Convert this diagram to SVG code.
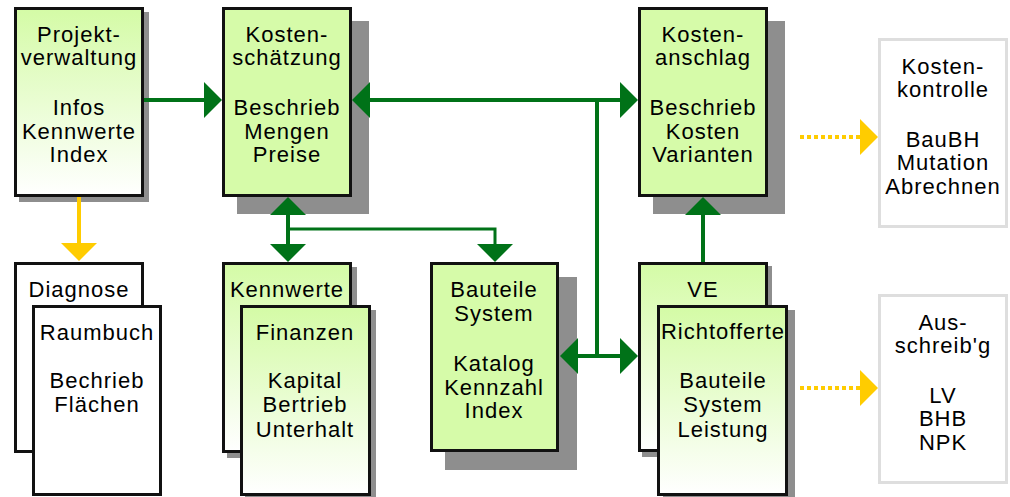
<svg xmlns="http://www.w3.org/2000/svg" width="1010" height="497" viewBox="0 0 1010 497">
<defs>
<linearGradient id="fade" x1="0" y1="0" x2="0" y2="1">
<stop offset="0" stop-color="#d4fba6"/>
<stop offset="1" stop-color="#ffffff"/>
</linearGradient>
<marker id="ag" viewBox="0 0 18 36" refX="0" refY="18" markerWidth="18" markerHeight="36" markerUnits="userSpaceOnUse" orient="auto-start-reverse">
<path d="M0,0 L18,18 L0,36 z" fill="#007218"/>
</marker>
<marker id="ay" viewBox="0 0 18 36" refX="0" refY="18" markerWidth="18" markerHeight="36" markerUnits="userSpaceOnUse" orient="auto-start-reverse">
<path d="M0,0 L18,18 L0,36 z" fill="#ffcc00"/>
</marker>
</defs>
<style>
.box{stroke:#111;stroke-width:3}
.solid{fill:#d6fba9}
.grad{fill:url(#fade)}
.white{fill:#fff}
.gray{fill:#fff;stroke:#dedede;stroke-width:3}
.sh{fill:#8e8e8e}
text{font-family:"Liberation Sans",Arial,sans-serif;font-size:22px;letter-spacing:1px;text-anchor:middle;fill:#000}
.g{fill:none;stroke:#007218;stroke-width:4}
.g3{fill:none;stroke:#007218;stroke-width:3}
.y{fill:none;stroke:#ffcc00;stroke-width:4}
.yd{fill:none;stroke:#ffcc00;stroke-width:4;stroke-dasharray:4 3}
</style>
<rect width="1010" height="497" fill="#fff"/>
<g id="projektverwaltung">
<rect class="sh" x="19" y="12" width="130" height="190"/>
<rect class="box grad" x="15.5" y="8.5" width="127" height="187"/>
<text x="79" y="42">Projekt-</text>
<text x="79" y="65">verwaltung</text>
<text x="79" y="115">Infos</text>
<text x="79" y="139">Kennwerte</text>
<text x="79" y="162">Index</text>
</g>
<g id="kostenschaetzung">
<rect class="sh" x="237" y="21" width="132" height="193"/>
<rect class="box solid" x="223.5" y="8.5" width="127" height="187"/>
<text x="287" y="42">Kosten-</text>
<text x="287" y="65">schätzung</text>
<text x="287" y="115">Beschrieb</text>
<text x="287" y="139">Mengen</text>
<text x="287" y="162">Preise</text>
</g>
<g id="kostenanschlag">
<rect class="sh" x="653" y="21" width="132" height="193"/>
<rect class="box solid" x="639.5" y="8.5" width="127" height="187"/>
<text x="703" y="42">Kosten-</text>
<text x="703" y="65">anschlag</text>
<text x="703" y="115">Beschrieb</text>
<text x="703" y="139">Kosten</text>
<text x="703" y="162">Varianten</text>
</g>
<g id="kostenkontrolle">
<rect class="gray" x="879.5" y="39.5" width="127" height="187"/>
<text x="943" y="74">Kosten-</text>
<text x="943" y="97">kontrolle</text>
<text x="943" y="147">BauBH</text>
<text x="943" y="170">Mutation</text>
<text x="943" y="194">Abrechnen</text>
</g>
<g id="diagnose">
<rect class="box white" x="15.5" y="263.5" width="127" height="188"/>
<text x="79" y="297">Diagnose</text>
</g>
<g id="raumbuch">
<rect class="box white" x="33.5" y="306.5" width="127" height="188"/>
<text x="97" y="340">Raumbuch</text>
<text x="97" y="388">Bechrieb</text>
<text x="97" y="412">Flächen</text>
</g>
<g id="kennwerte">
<rect class="sh" x="227" y="267" width="130" height="191"/>
<rect class="box grad" x="223.5" y="263.5" width="127" height="188"/>
<text x="287" y="297">Kennwerte</text>
</g>
<g id="finanzen">
<rect class="sh" x="245" y="310" width="131" height="191"/>
<rect class="box grad" x="241.5" y="306.5" width="128" height="188"/>
<text x="305" y="340">Finanzen</text>
<text x="305" y="388">Kapital</text>
<text x="305" y="412">Bertrieb</text>
<text x="305" y="437">Unterhalt</text>
</g>
<g id="bauteile">
<rect class="sh" x="445" y="277" width="132" height="193"/>
<rect class="box solid" x="431.5" y="263.5" width="126" height="187"/>
<text x="494" y="297">Bauteile</text>
<text x="494" y="321">System</text>
<text x="494" y="371">Katalog</text>
<text x="494" y="395">Kennzahl</text>
<text x="494" y="418">Index</text>
</g>
<g id="ve">
<rect class="sh" x="642" y="266" width="130" height="191"/>
<rect class="box grad" x="639.5" y="263.5" width="127" height="187"/>
<text x="703" y="297">VE</text>
</g>
<g id="richtofferte">
<rect class="sh" x="663" y="310" width="132" height="191"/>
<rect class="box grad" x="658.5" y="306.5" width="128" height="188"/>
<text x="723" y="339">Richtofferte</text>
<text x="723" y="388">Bauteile</text>
<text x="723" y="412">System</text>
<text x="723" y="437">Leistung</text>
</g>
<g id="ausschreibung">
<rect class="gray" x="879.5" y="295.5" width="127" height="187"/>
<text x="943" y="330">Aus-</text>
<text x="943" y="353">schreib'g</text>
<text x="943" y="403">LV</text>
<text x="943" y="426">BHB</text>
<text x="943" y="450">NPK</text>
</g>
<g id="connectors">
<path class="g" d="M144,100 H204" marker-end="url(#ag)"/>
<path class="g" d="M370,100 H620" marker-start="url(#ag)" marker-end="url(#ag)"/>
<path class="g" d="M597,100 V356"/>
<path class="g" d="M578,356 H620" marker-start="url(#ag)" marker-end="url(#ag)"/>
<path class="g" d="M288,215 V244" marker-start="url(#ag)" marker-end="url(#ag)"/>
<path class="g3" d="M288,229 H495 V244" marker-end="url(#ag)"/>
<path class="g" d="M703,262 V215" marker-end="url(#ag)"/>
<path class="y" d="M79,197 V243" marker-end="url(#ay)"/>
<path class="yd" d="M800,137 H860" marker-end="url(#ay)"/>
<path class="yd" d="M800,388 H860" marker-end="url(#ay)"/>
</g>
</svg>
